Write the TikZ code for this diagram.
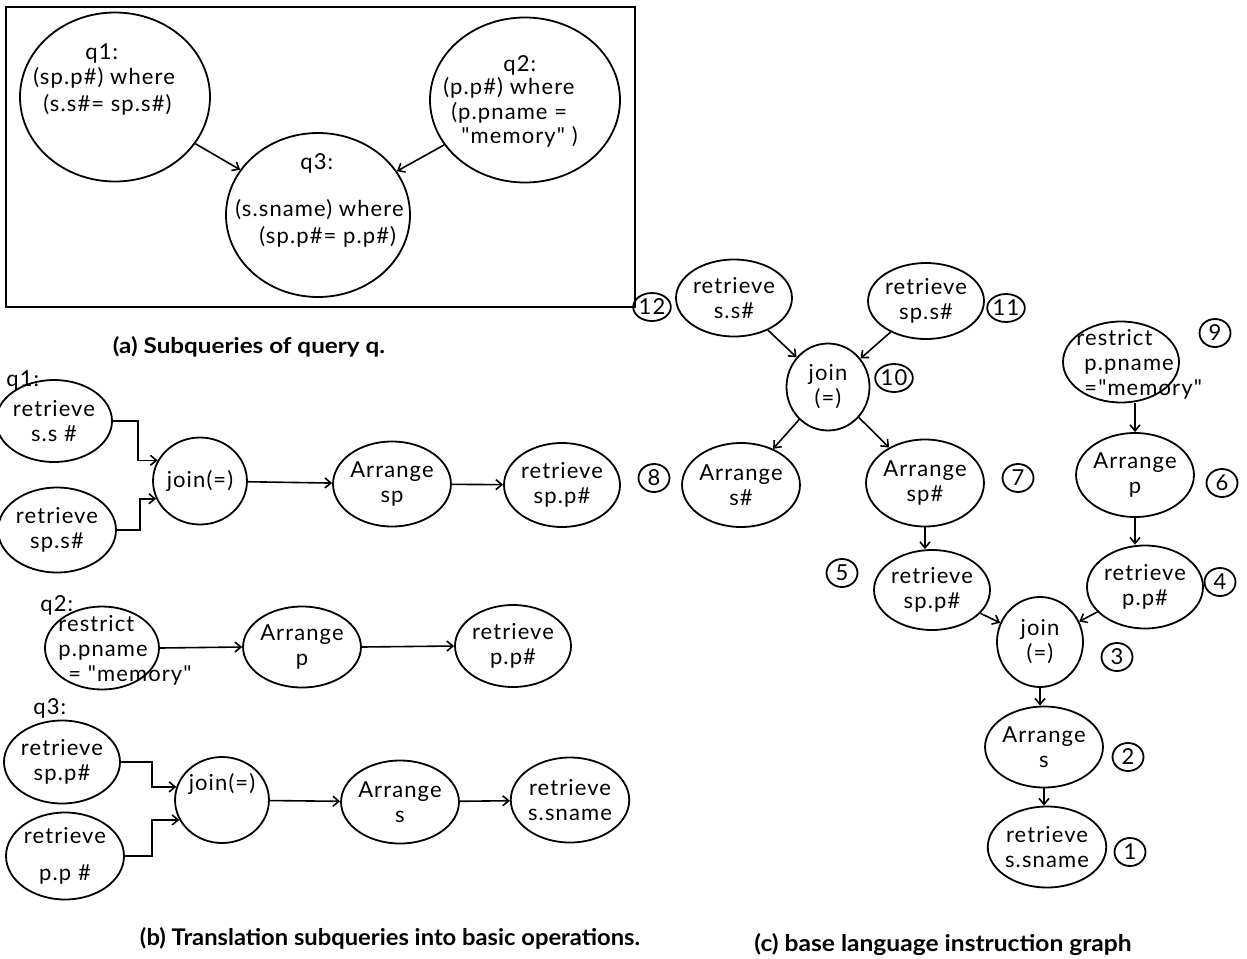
\documentclass[tikz,border=0pt]{standalone}
\usepackage{fontspec}
\usepackage{graphicx}
\setmainfont{Lato}[LetterSpace=5,Ligatures=TeXOff]
\newfontfamily\capfont{Lato}
\usetikzlibrary{shapes.geometric,arrows.meta}

\begin{document}
\begin{tikzpicture}[x=0.5pt,y=-0.5pt,
  op/.style={ellipse, draw, line width=0.9pt, inner sep=0pt, align=center,
             font=\fontsize{11}{12.5}\selectfont},
  num/.style={ellipse, draw, line width=0.9pt, minimum width=15.5pt,
              minimum height=14pt, inner sep=0pt, font=\fontsize{11}{12}\selectfont},
  txt/.style={anchor=west, inner sep=0pt, font=\fontsize{11}{12.5}\selectfont},
  arr/.style={line width=0.8pt, -{Straight Barb[length=3pt,width=5pt]}},
  captext/.style={inner sep=0pt}]
\useasboundingbox (0,0) rectangle (1247,958);

% ---------- (a) subqueries ----------
\draw[line width=1pt] (6,7) rectangle (635,307);
\node[op, minimum width=95pt, minimum height=84.5pt] (q1) at (115,97) {};
\node[op, minimum width=95pt, minimum height=82.5pt] (q2) at (525,100) {};
\node[op, minimum width=92pt, minimum height=82pt] (q3) at (318,215) {};
\node[txt] (q1a) at (85,53) {q1:};
\node[txt] (q1b) at (33,78) {(sp.p\#) where};
\node[txt] (q1c) at (43,105) {(s.s\#= sp.s\#)};
\node[txt] (q2a) at (503,65) {q2:};
\node[txt] (q2b) at (443,88) {(p.p\#) where};
\node[txt] (q2c) at (451,113) {(p.pname =};
\node[txt] (q2d) at (461,137) {"memory" )};
\node[txt] (q3a) at (300,163) {q3:};
\node[txt] (q3b) at (235,210) {(s.sname) where};
\node[txt] (q3c) at (259,237) {(sp.p\#= p.p\#)};
\draw[arr] (q1) -- (q3);
\draw[arr] (q2) -- (q3);
\node[captext] (capa) at (249,347) {\capfont\bfseries\resizebox{136pt}{8.5pt}{(a) Subqueries of query q.}};

% ---------- (b) basic operations ----------
\node[txt] (lq1) at (6,380) {q1:};
\node[op, minimum width=58pt, minimum height=41pt] (b1a) at (54,421) {retrieve\\s.s \#};
\node[op, minimum width=59pt, minimum height=42.5pt] (b1b) at (57,530) {retrieve\\sp.s\#};
\node[op, minimum width=43pt, minimum height=43.5pt] (b1j) at (200,481) {join(=)};
\node[op, minimum width=57pt, minimum height=42.5pt] (b1r) at (392,484) {Arrange\\sp};
\node[op, minimum width=58pt, minimum height=42pt] (b1s) at (562,485) {retrieve\\sp.p\#};
\draw[arr] (b1a.east) -- ++(25,0) |- (b1j.154);
\draw[arr] (b1b.east) -- ++(23,0) |- (b1j.202);
\draw[arr] (b1j) -- (b1r);
\draw[arr] (b1r) -- (b1s);

\node[txt] (lq2) at (40,605) {q2:};
\node[op, minimum width=57pt, minimum height=41.5pt] (b2a) at (102,648) {};
\node[txt, align=left] (b2at) at (58,650) {restrict\\p.pname\\\hspace*{5pt}= "memory"};
\node[op, minimum width=57pt, minimum height=40.5pt] (b2b) at (302,647) {Arrange\\p};
\node[op, minimum width=58pt, minimum height=41pt] (b2c) at (513,646) {retrieve\\p.p\#};
\draw[arr] (b2a.east) -- (b2b.west);
\draw[arr] (b2b.east) -- (b2c.west);

\node[txt] (lq3) at (33,708) {q3:};
\node[op, minimum width=58pt, minimum height=41.5pt] (b3a) at (62,762) {retrieve\\sp.p\#};
\node[op, minimum width=59pt, minimum height=43.5pt] (b3b) at (65,856) {retrieve\\[6pt]p.p \#};
\node[op, minimum width=42.5pt, minimum height=43pt] (b3j) at (222,800) {join(=)\\[6pt]};
\node[op, minimum width=57pt, minimum height=41.5pt] (b3r) at (400,802) {Arrange\\s};
\node[op, minimum width=58.5pt, minimum height=42.5pt] (b3s) at (570,800) {retrieve\\s.sname};
\draw[arr] (b3a.east) -- ++(31,0) |- (b3j.164);
\draw[arr] (b3b.east) -- ++(27,0) |- (b3j.205);
\draw[arr] (b3j) -- (b3r);
\draw[arr] (b3r) -- (b3s);
\node[captext] (capb) at (390,938) {\capfont\bfseries\resizebox{250pt}{9pt}{(b) Translation subqueries into basic operations.}};

% ---------- (c) instruction graph ----------
\node[op, minimum width=57pt, minimum height=38.5pt] (c12) at (734,298) {retrieve\\s.s\#};
\node[op, minimum width=56pt, minimum height=38pt] (c11) at (926,301) {retrieve\\sp.s\#};
\node[op, minimum width=41.5pt, minimum height=43.5pt] (c10) at (828,387) {join\\(=)};
\node[op, minimum width=58pt, minimum height=42pt] (c8) at (741,485) {Arrange\\s\#};
\node[op, minimum width=57pt, minimum height=43.5pt] (c7) at (925,483) {Arrange\\sp\#};
\node[op, minimum width=58pt, minimum height=40.5pt] (c9) at (1121,362) {};
\node[txt, align=left] (c9t) at (1076,364) {restrict\\\hspace*{4pt}p.pname\\\hspace*{4pt}="memory"};
\node[op, minimum width=58pt, minimum height=42pt] (c6) at (1135,475) {Arrange\\p};
\node[op, minimum width=56.5pt, minimum height=40pt] (c5) at (932,590) {retrieve\\sp.p\#};
\node[op, minimum width=58pt, minimum height=41.5pt] (c4) at (1145,587) {retrieve\\p.p\#};
\node[op, minimum width=43pt, minimum height=45pt] (c3) at (1040,642) {join\\(=)};
\node[op, minimum width=55pt, minimum height=40.5pt] (c2) at (1044,747) {Arrange\\s};
\node[op, minimum width=58.5pt, minimum height=40.5pt] (c1) at (1047,847) {retrieve\\s.sname};

\node[num] (n12) at (652,307) {12};
\node[num] (n11) at (1006,308) {11};
\node[num] (n10) at (894,378) {10};
\node[num] (n9) at (1215,333) {9};
\node[num] (n8) at (654,478) {8};
\node[num] (n7) at (1018,478) {7};
\node[num] (n6) at (1222,483) {6};
\node[num] (n5) at (842,573) {5};
\node[num] (n4) at (1220,582) {4};
\node[num] (n3) at (1117,657) {3};
\node[num] (n2) at (1128,757) {2};
\node[num] (n1) at (1130,852) {1};

\draw[arr] (c12) -- (c10);
\draw[arr] (c11) -- (c10);
\draw[arr] (c10) -- (c8);
\draw[arr] (c10) -- (c7);
\draw[arr] (c7.south) -- (c7.south |- c5.north);
\draw[arr] (c6.north |- c9.south) -- (c6.north);
\draw[arr] (c6.south) -- (c6.south |- c4.north);
\draw[arr] (c5) -- (c3);
\draw[arr] (c4) -- (c3);
\draw[arr] (c3.south) -- (c3.south |- c2.north);
\draw[arr] (c2.south) -- (c2.south |- c1.north);
\node[captext] (capc) at (943,945) {\capfont\bfseries\resizebox{188.5pt}{9pt}{(c) base language instruction graph}};
\end{tikzpicture}
\end{document}
